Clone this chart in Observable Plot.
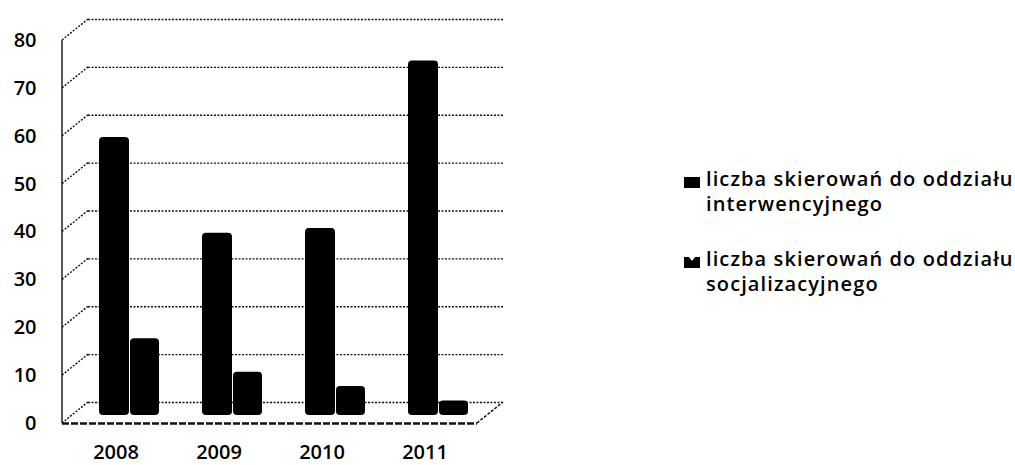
<!DOCTYPE html>
<html>
<head>
<meta charset="utf-8">
<script src="https://cdn.jsdelivr.net/npm/d3@7"></script>
<script src="https://cdn.jsdelivr.net/npm/@observablehq/plot@0.6"></script>
<style>
  html, body { margin: 0; padding: 0; background: #fff; }
  #wrap { position: relative; width: 1015px; height: 465px; font-family: "Open Sans", sans-serif; }
  #chart svg { display: block; }
  #legend { position: absolute; left: 684px; top: 166px; font-size: 20px; font-weight: 600; letter-spacing: 1.1px; line-height: 25px; color: #000; white-space: nowrap; }
  .entry { position: relative; padding-left: 22px; }
  .entry + .entry { margin-top: 30px; }
  .mk { position: absolute; left: 0; top: 11px; }
</style>
</head>
<body>
<div id="wrap"><div id="chart"></div><div id="legend"></div></div>
<script>
// ---- data ----
const years = ["2008", "2009", "2010", "2011"];
const interwencyjny = [57, 37, 38, 73];
const socjalizacyjny = [15, 8, 5, 2];
const seriesLines = [
  ["liczba skierowań do oddziału", "interwencyjnego"],
  ["liczba skierowań do oddziału", "socjalizacyjnego"]
];
const yTicks = [0, 10, 20, 30, 40, 50, 60, 70, 80];

const table = years.map((year, i) => ({year, a: interwencyjny[i], b: socjalizacyjny[i]}));

// 3D depth offset of the back wall (pixels)
const DX = 26, DY = -21;

function wallEdges(index, scales, values, dimensions) {
  const g = d3.create("svg:g").attr("fill", "none").attr("stroke", "#111");
  const xl = dimensions.marginLeft;
  const xr = dimensions.width - dimensions.marginRight;
  const y = scales.y;
  for (const t of yTicks) {
    const py = y(t);
    g.append("line").attr("x1", xl).attr("y1", py).attr("x2", xl + DX).attr("y2", py + DY)
      .attr("stroke-width", 1.4).attr("stroke-dasharray", "2,1.5");
  }
  g.append("line").attr("x1", xl).attr("x2", xl).attr("y1", y(yTicks[yTicks.length - 1])).attr("y2", y(0))
    .attr("stroke-width", 1.4);
  g.append("line").attr("x1", xr).attr("y1", y(0)).attr("x2", xr + DX).attr("y2", y(0) + DY)
    .attr("stroke-width", 1.5).attr("stroke-dasharray", "3,1.5");
  return g.node();
}

const chart = Plot.plot({
  width: 1015,
  height: 465,
  marginLeft: 62,
  marginRight: 538,
  marginTop: 40,
  marginBottom: 42,
  style: {fontFamily: "Open Sans, sans-serif", fontSize: "20px", fontWeight: 600, color: "#000", background: "#fff"},
  x: {type: "band", domain: years, padding: 0, tickSize: 0, tickPadding: 21, label: null},
  y: {domain: [0, 80], ticks: yTicks, tickSize: 0, tickPadding: 26, label: null, tickFormat: d => String(d)},
  marks: [
    Plot.ruleY(yTicks, {dx: DX, dy: DY, stroke: "#111", strokeWidth: 1.4, strokeDasharray: "2,1.5"}),
    wallEdges,
    Plot.ruleY([0], {stroke: "#111", strokeWidth: 2.4, strokeDasharray: "7,2"}),
    Plot.barY(table, {x: "year", y: "a", fill: "#000", insetLeft: 35, insetRight: 38, insetBottom: -5, dy: -13, rx: 4}),
    Plot.barY(table, {x: "year", y: "b", fill: "#000", insetLeft: 66, insetRight: 8, insetBottom: -5, dy: -13, rx: 4})
  ]
});
document.getElementById("chart").appendChild(chart);

// ---- legend ----
const markers = [
  '<svg class="mk" width="16" height="11"><rect width="16" height="11" fill="#000"/></svg>',
  '<svg class="mk" width="16" height="11"><path d="M0,0H5L8,4L11,0H16V11H0Z" fill="#000"/></svg>'
];
const legend = document.getElementById("legend");
seriesLines.forEach((lines, i) => {
  const e = document.createElement("div");
  e.className = "entry";
  e.innerHTML = markers[i] + lines.join("<br>");
  legend.appendChild(e);
});
</script>
</body>
</html>
